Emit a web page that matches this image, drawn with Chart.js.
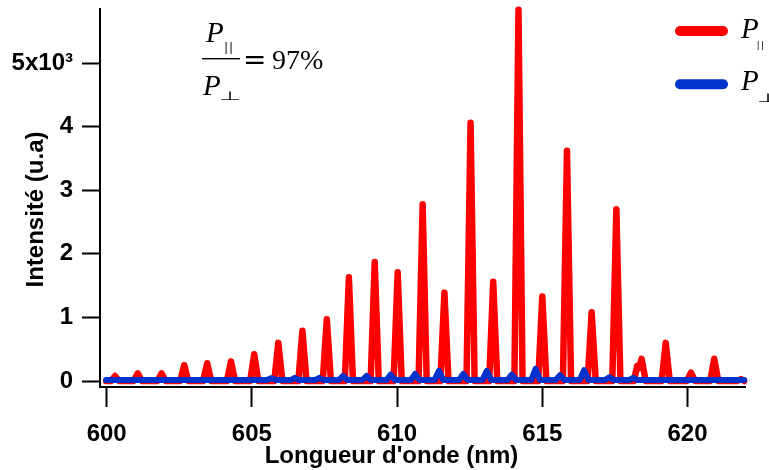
<!DOCTYPE html>
<html><head><meta charset="utf-8">
<script src="https://cdn.jsdelivr.net/npm/chart.js@4/dist/chart.umd.min.js"></script>
<style>html,body{margin:0;padding:0;background:#fff;overflow:hidden}</style>
</head><body>
<canvas id="c" width="769" height="470"></canvas>
<script>
// ---- data ----
const xTickValues = [600, 605, 610, 615, 620];
const yTickValues = [0, 1000, 2000, 3000, 4000, 5000];

// P-parallel spectrum (red): wavelength (nm) and intensity
const parNm = [599.98,600.15,600.29,600.43,600.93,601.07,601.21,601.75,601.89,602.03,602.53,602.67,602.81,603.32,603.46,603.60,604.14,604.28,604.42,604.94,605.08,605.22,605.77,605.91,606.05,606.60,606.74,606.88,607.44,607.58,607.72,608.20,608.34,608.48,609.09,609.23,609.37,609.88,610.02,610.16,610.74,610.88,611.02,611.49,611.63,611.77,612.39,612.53,612.67,613.17,613.31,613.45,614.04,614.18,614.32,614.86,615.00,615.14,615.71,615.85,615.99,616.56,616.70,616.84,617.41,617.55,617.69,618.15,618.27,618.33,618.42,618.56,619.11,619.25,619.39,619.98,620.12,620.26,620.78,620.92,621.06,621.70,621.84,621.95];
const parInt = [0,0,80,0,0,120,0,0,120,0,0,250,0,0,280,0,0,310,0,0,420,0,0,600,0,0,790,0,0,970,0,0,1630,0,0,1870,0,0,1710,0,0,2780,0,0,1390,0,0,4060,0,0,1560,0,0,5840,0,0,1330,0,0,3620,0,0,1080,0,0,2700,0,0,240,200,350,0,0,600,0,0,130,0,0,350,0,0,30,0];

// P-perpendicular spectrum (blue)
const perpNm = [599.98,605.50,605.68,605.83,606.33,606.48,606.63,607.17,607.32,607.47,607.99,608.14,608.29,608.80,608.95,609.10,609.63,609.78,609.93,610.47,610.62,610.77,611.29,611.44,611.59,612.13,612.28,612.43,612.94,613.09,613.24,613.80,613.95,614.10,614.62,614.77,614.92,615.46,615.61,615.76,616.29,616.44,616.59,617.16,617.31,617.46,617.98,618.13,618.28,621.95];
const perpInt = [15,15,45,15,15,50,15,15,50,15,15,80,15,15,80,15,15,100,15,15,110,15,15,160,15,15,110,15,15,160,15,15,100,15,15,190,15,15,90,15,15,170,15,15,60,15,15,50,15,15];

const ratioValue = '97%';
const xTitle = "Longueur d'onde (nm)";
const yTitle = 'Intensité (u.a)';

// ---- chart ----
const RED = '#ff0000', BLUE = '#0033cc';
const SANS = '"Liberation Sans", Arial, sans-serif';
Chart.defaults.font.family = SANS;
Chart.defaults.color = '#000';

const toPts = (xs, ys) => xs.map((x, i) => ({x, y: ys[i]}));

function perp(ctx, x, y) {
  ctx.save();
  ctx.translate(x, y);
  ctx.scale(1.15, 0.55);
  ctx.font = '22px "DejaVu Sans"';
  ctx.fillText('⊥', 0, 0);
  ctx.restore();
}
function par(ctx, x, y, size) {
  ctx.save();
  ctx.font = size + 'px "Liberation Sans"';
  ctx.letterSpacing = '2px';
  ctx.fillText('||', x, y);
  ctx.restore();
}

const overlay = {
  id: 'overlay',
  afterDraw(chart) {
    const ctx = chart.ctx;
    ctx.save();
    ctx.fillStyle = '#000';
    ctx.textBaseline = 'alphabetic';
    ctx.textAlign = 'left';
    // ratio formula
    ctx.font = 'italic 29px "Liberation Serif"';
    ctx.fillText('P', 206, 42);
    par(ctx, 224.5, 51, 12);
    ctx.fillRect(202, 58, 38, 1.4);
    ctx.font = 'italic 29px "Liberation Serif"';
    ctx.fillText('P', 203, 95);
    perp(ctx, 219, 99.5);
    ctx.font = '28px "DejaVu Serif"';
    ctx.fillText('=', 243, 69);
    ctx.font = '28px "Liberation Serif"';
    ctx.fillText(ratioValue, 272, 68.5);

    // legend
    ctx.lineCap = 'round';
    ctx.lineWidth = 10;
    ctx.strokeStyle = RED;
    ctx.beginPath(); ctx.moveTo(680, 31); ctx.lineTo(723, 31); ctx.stroke();
    ctx.strokeStyle = BLUE;
    ctx.beginPath(); ctx.moveTo(680, 84.3); ctx.lineTo(723, 84.3); ctx.stroke();
    ctx.font = 'italic 29px "Liberation Serif"';
    ctx.fillText('P', 741, 38);
    ctx.fillText('P', 741, 90);
    par(ctx, 757, 48, 9);
    perp(ctx, 757, 101.7);

    // axis titles
    ctx.font = 'bold 24px ' + SANS;
    ctx.textAlign = 'center';
    ctx.fillText(xTitle, 391.5, 463);
    ctx.save();
    ctx.translate(43.3, 209.5);
    ctx.rotate(-Math.PI / 2);
    ctx.fillText(yTitle, 0, 0);
    ctx.restore();
    ctx.restore();
  }
};

new Chart(document.getElementById('c'), {
  type: 'line',
  data: {
    datasets: [
      { label: 'P⊥', data: toPts(perpNm, perpInt), borderColor: BLUE, borderWidth: 6,
        pointRadius: 0, borderCapStyle: 'round', borderJoinStyle: 'round', clip: false, order: 0, tension: 0 },
      { label: 'P∥', data: toPts(parNm, parInt), borderColor: RED, borderWidth: 6.5,
        pointRadius: 0, borderCapStyle: 'round', borderJoinStyle: 'round', clip: false, order: 1, tension: 0 }
    ]
  },
  options: {
    responsive: false,
    animation: false,
    events: [],
    layout: { padding: { left: 0, right: 24, top: 9, bottom: 0 } },
    plugins: { legend: { display: false }, tooltip: { enabled: false } },
    scales: {
      x: {
        type: 'linear', min: 599.77, max: 621.98,
        afterBuildTicks: s => { s.ticks = xTickValues.map(v => ({value: v})); },
        afterFit: s => { s.height = 83; s.paddingLeft = 0; s.paddingRight = 0; },
        grid: { drawOnChartArea: false, drawTicks: true, tickLength: 20, tickWidth: 2, color: '#000' },
        border: { display: true, color: '#000', width: 2 },
        ticks: { font: { size: 24, weight: 'bold' }, padding: 13, maxRotation: 0, callback: v => String(v) },
        title: { display: false }
      },
      y: {
        type: 'linear', min: -94, max: 5850,
        afterBuildTicks: s => { s.ticks = yTickValues.map(v => ({value: v})); },
        afterFit: s => { s.width = 100; s.paddingTop = 0; s.paddingBottom = 0; },
        grid: { drawOnChartArea: false, drawTicks: true, tickLength: 18, tickWidth: 2, color: '#000' },
        border: { display: true, color: '#000', width: 2 },
        ticks: { font: { size: 24, weight: 'bold' }, padding: 9,
          callback: v => v === 5000 ? '5x10³' : String(v / 1000) },
        title: { display: false }
      }
    }
  },
  plugins: [overlay]
});
</script>
</body></html>
